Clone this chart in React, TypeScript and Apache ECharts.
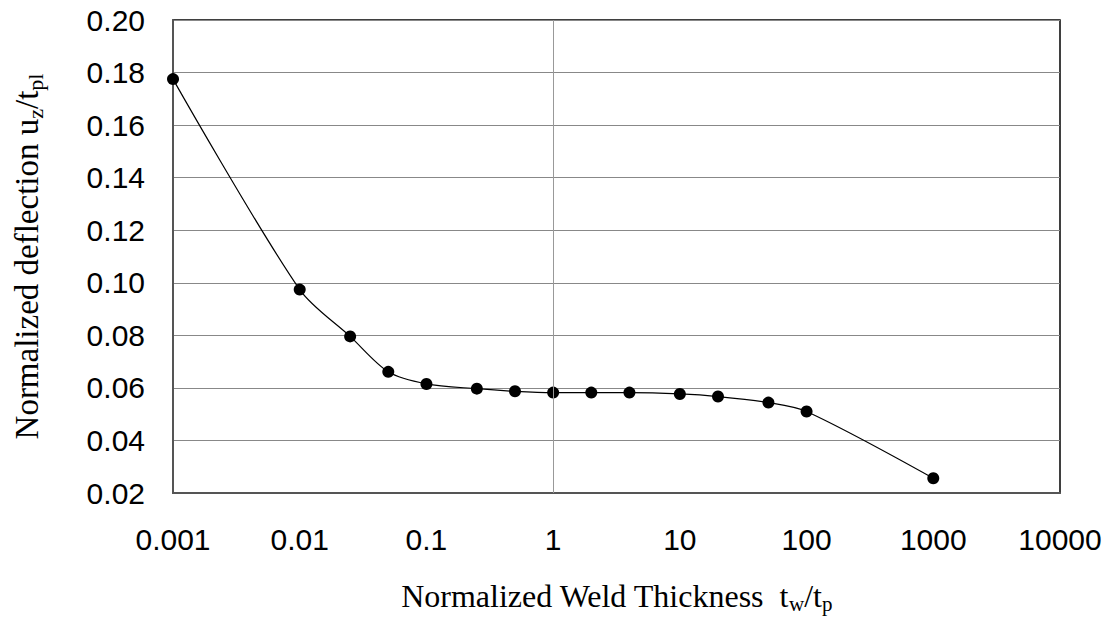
import React, { useEffect, useRef } from "react";
import * as echarts from "echarts";

const weldThickness = [0.001, 0.01, 0.025, 0.05, 0.1, 0.25, 0.5, 1, 2, 4, 10, 20, 50, 100, 1000];
const deflection = [0.1775, 0.0974, 0.0796, 0.0661, 0.0615, 0.0597, 0.0587, 0.0582, 0.0582, 0.0582, 0.0577, 0.0567, 0.0544, 0.051, 0.0256];
const xTickLabels = ["0.001", "0.01", "0.1", "1", "10", "100", "1000", "10000"];
const yMin = 0.02;
const yMax = 0.2;
const yStep = 0.02;

export default function App() {
  const ref = useRef<HTMLDivElement>(null);
  useEffect(() => {
    if (!ref.current) return;
    const chart = echarts.init(ref.current, undefined, { renderer: "svg" });
    const sans = "Liberation Sans, Arial, sans-serif";
    const serif = "Liberation Serif, Times New Roman, serif";
    chart.setOption({
      animation: false,
      backgroundColor: "#fff",
      grid: {
        left: 173,
        top: 20,
        right: 52,
        bottom: 130,
        show: true,
        borderColor: "#000",
        borderWidth: 1.5,
        backgroundColor: "transparent",
      },
      xAxis: {
        type: "log",
        logBase: 10,
        min: 0.001,
        max: 10000,
        axisLine: { show: true, lineStyle: { color: "#555", width: 2 } },
        axisTick: { show: false },
        splitLine: { show: false },
        axisLabel: {
          margin: 31,
          fontFamily: sans,
          fontSize: 30,
          color: "#000",
          formatter: (v: number) => xTickLabels[Math.round(Math.log10(v)) + 3] ?? String(v),
        },
        name: "{a|Normalized Weld Thickness  t}{s|w}{a|/t}{s|p}",
        nameLocation: "middle",
        nameGap: 85,
        nameTextStyle: {
          rich: {
            a: { fontFamily: serif, fontSize: 32, color: "#000", lineHeight: 36 },
            s: { fontFamily: serif, fontSize: 21, color: "#000", lineHeight: 36, padding: [16, 0, 0, 0] },
          },
        },
      },
      yAxis: {
        type: "value",
        min: yMin,
        max: yMax,
        interval: yStep,
        axisLine: { show: true, lineStyle: { color: "#555", width: 2 } },
        axisTick: { show: false },
        splitLine: { show: true, lineStyle: { color: "#888", width: 1 } },
        axisLabel: {
          margin: 28,
          fontFamily: sans,
          fontSize: 30,
          color: "#000",
          formatter: (v: number) => v.toFixed(2),
        },
        name: "{a|Normalized deflection u}{s|z}{a|/t}{s|pl}",
        nameLocation: "middle",
        nameRotate: 90,
        nameGap: 128,
        nameTextStyle: {
          rich: {
            a: { fontFamily: serif, fontSize: 33, color: "#000", lineHeight: 36 },
            s: { fontFamily: serif, fontSize: 22, color: "#000", lineHeight: 36, padding: [16, 0, 0, 0] },
          },
        },
      },
      series: [
        {
          type: "line",
          data: weldThickness.map((x, i) => [x, deflection[i]]),
          smooth: 0.3,
          symbol: "circle",
          symbolSize: 12,
          itemStyle: { color: "#000" },
          lineStyle: { color: "#000", width: 1.2 },
          markLine: {
            silent: true,
            symbol: "none",
            label: { show: false },
            lineStyle: { color: "#999", width: 1, type: "solid" },
            data: [{ xAxis: 1 }],
          },
          z: 3,
        },
      ],
    });
    return () => chart.dispose();
  }, []);
  return (
    <div
      ref={ref}
      style={{ position: "fixed", left: 0, top: 0, width: 1112, height: 623 }}
    />
  );
}
